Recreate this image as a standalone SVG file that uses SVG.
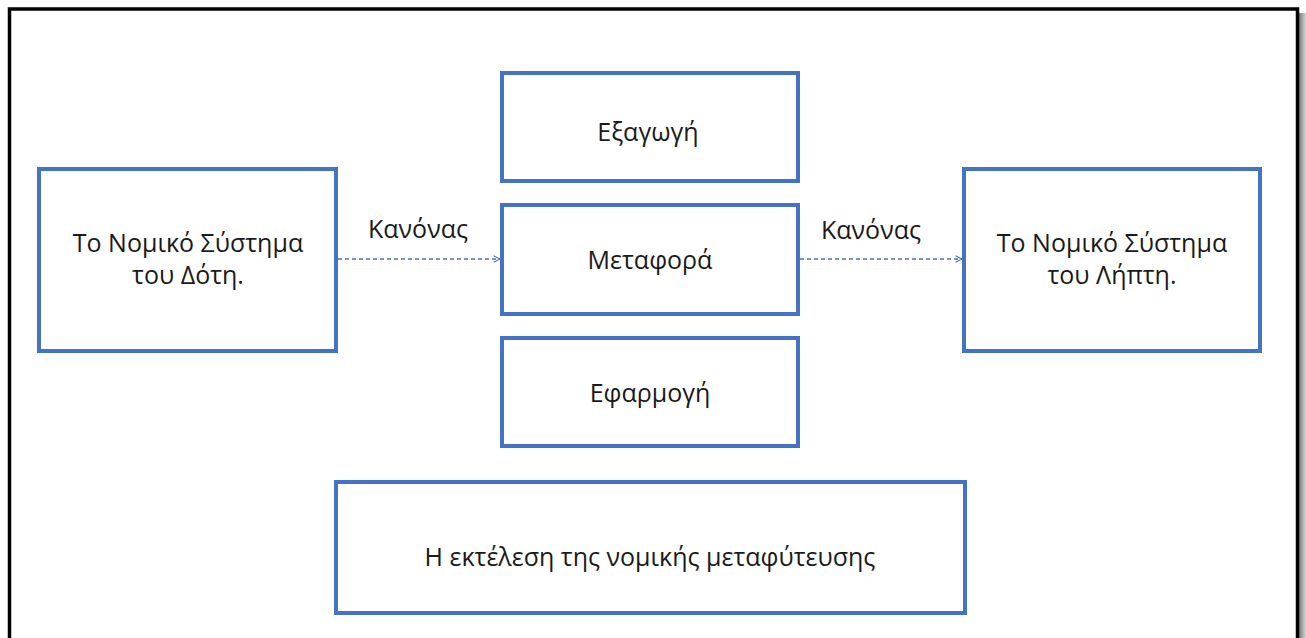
<svg xmlns="http://www.w3.org/2000/svg" width="1306" height="638" viewBox="0 0 1306 638">
<defs>
<linearGradient id="shadowR" x1="0" y1="0" x2="1" y2="0">
<stop offset="0" stop-color="#7a7a7a"/>
<stop offset="1" stop-color="#d8d8d8"/>
</linearGradient>
<marker id="arrow" viewBox="0 0 10 10" refX="9" refY="5" markerWidth="8" markerHeight="8" markerUnits="userSpaceOnUse" orient="auto">
<path d="M1,1 L9,5 L1,9" fill="none" stroke="#4472C4" stroke-width="1.3"/>
</marker>
<style>
.box{fill:#fff;stroke:#4472C4;stroke-width:4}
.lbl{font-family:"Open Sans","Liberation Sans",sans-serif;font-size:25px;fill:#1a1a1a;text-anchor:middle}
.conn{fill:none;stroke:#4472C4;stroke-width:1.3;stroke-dasharray:4 3}
</style>
</defs>
<rect x="0" y="0" width="1306" height="638" fill="#fff"/>
<rect x="1299" y="13" width="7" height="625" fill="url(#shadowR)"/>
<rect x="9.5" y="9" width="1288" height="640" fill="#fff" stroke="#000" stroke-width="3.5"/>

<g id="giver">
<rect class="box" x="39" y="169" width="297" height="182"/>
<text class="lbl" x="188" y="252">Το Νομικό Σύστημα</text>
<text class="lbl" x="188" y="284">του Δότη.</text>
</g>
<g id="receiver">
<rect class="box" x="964" y="169" width="296" height="182"/>
<text class="lbl" x="1112" y="252">Το Νομικό Σύστημα</text>
<text class="lbl" x="1112" y="284">του Λήπτη.</text>
</g>
<g id="export">
<rect class="box" x="502" y="73" width="296" height="108"/>
<text class="lbl" x="648" y="141">Εξαγωγή</text>
</g>
<g id="transfer">
<rect class="box" x="502" y="205" width="296" height="109"/>
<text class="lbl" x="650" y="269">Μεταφορά</text>
</g>
<g id="apply">
<rect class="box" x="502" y="338" width="296" height="108"/>
<text class="lbl" x="650" y="402">Εφαρμογή</text>
</g>
<g id="execution">
<rect class="box" x="336" y="482" width="629" height="131"/>
<text class="lbl" x="650" y="566">Η εκτέλεση της νομικής μεταφύτευσης</text>
</g>

<g id="connectors">
<line class="conn" x1="338" y1="259" x2="500" y2="259" marker-end="url(#arrow)"/>
<text class="lbl" x="418" y="238">Κανόνας</text>
<line class="conn" x1="800" y1="259" x2="962" y2="259" marker-end="url(#arrow)"/>
<text class="lbl" x="871" y="239">Κανόνας</text>
</g>
</svg>
